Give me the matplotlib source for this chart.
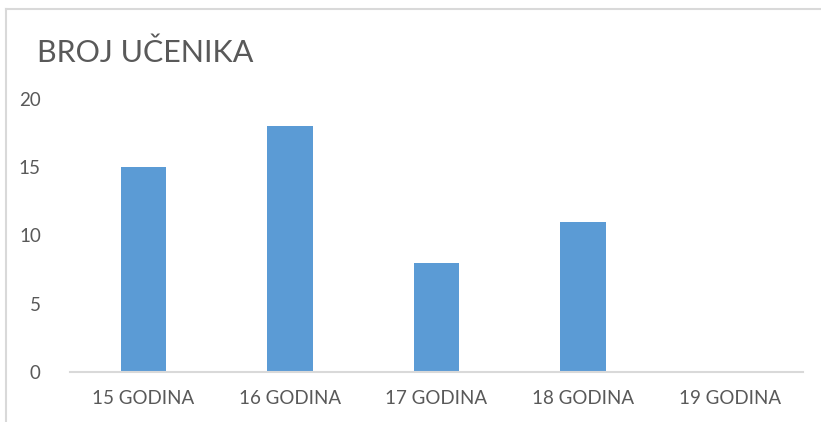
import matplotlib
matplotlib.use("Agg")
import matplotlib.pyplot as plt
from matplotlib.lines import Line2D

categories = ["15 GODINA", "16 GODINA", "17 GODINA", "18 GODINA", "19 GODINA"]
values = [15, 18, 8, 11, 0]
yticks = [0, 5, 10, 15, 20]
title = "BROJ UČENIKA"

plt.rcParams['font.family'] = ['Lato', 'DejaVu Sans']
W, H = 821, 422
fig = plt.figure(figsize=(W / 100, H / 100), dpi=100)
ax = fig.add_axes([70 / W, 50 / H, 733 / W, 273 / H])

ax.bar(range(len(categories)), values, width=0.31, color="#5B9BD5")
ax.set_xlim(-0.5, len(categories) - 0.5)
ax.set_ylim(0, 20)
ax.set_yticks(yticks)
ax.set_xticks(range(len(categories)))
ax.set_xticklabels(categories)

for s in ["top", "right", "left"]:
    ax.spines[s].set_visible(False)
ax.spines["bottom"].set_color("#D9D9D9")
ax.spines["bottom"].set_linewidth(1.5)
ax.tick_params(axis="both", length=0, labelsize=13.5, colors="#595959")
ax.tick_params(axis="y", pad=21)
ax.tick_params(axis="x", pad=13)

fig.text(37 / W, 1 - 53 / H, title, fontsize=22, color="#595959", va="center", ha="left")

# chart border (top and left visible)
fig.add_artist(Line2D([6 / W, 1], [1 - 9 / H, 1 - 9 / H], color="#D9D9D9", lw=1.5))
fig.add_artist(Line2D([6 / W, 6 / W], [0, 1 - 9 / H], color="#D9D9D9", lw=1.5))

fig.savefig("out.png", dpi=100)
